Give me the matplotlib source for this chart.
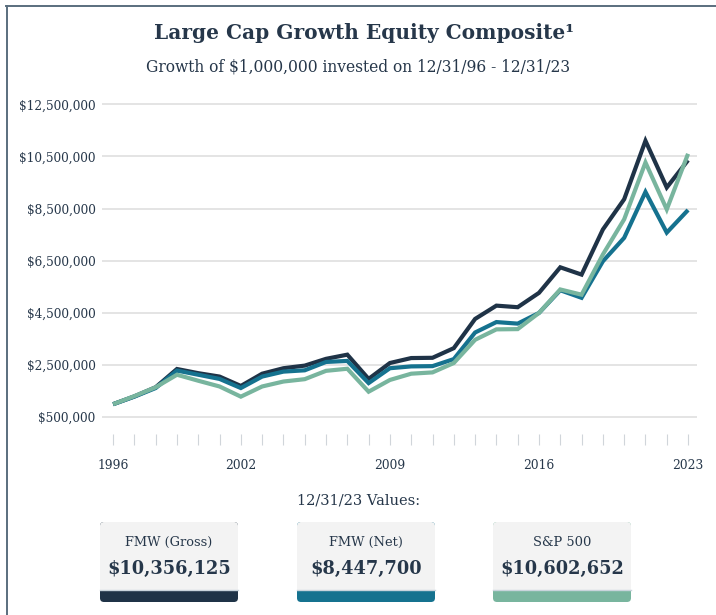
import matplotlib
matplotlib.use("Agg")
import matplotlib.pyplot as plt
from matplotlib.patches import FancyBboxPatch, Rectangle
from matplotlib.lines import Line2D
from matplotlib.ticker import FuncFormatter

plt.rcParams['font.family'] = ['DejaVu Serif']

years = list(range(1996, 2024))
gross = [1000000, 1300000, 1650000, 2350000, 2190000, 2060000, 1700000, 2170000, 2380000, 2480000,
         2740000, 2900000, 1970000, 2580000, 2770000, 2780000, 3150000, 4270000, 4780000, 4720000,
         5270000, 6250000, 5970000, 7700000, 8860000, 11100000, 9310000, 10356125]
net = [1000000, 1290000, 1620000, 2290000, 2130000, 1970000, 1620000, 2060000, 2250000, 2300000,
       2620000, 2660000, 1810000, 2380000, 2450000, 2460000, 2730000, 3750000, 4150000, 4090000,
       4500000, 5370000, 5080000, 6480000, 7380000, 9140000, 7580000, 8447700]
sp500 = [1000000, 1310000, 1650000, 2130000, 1900000, 1680000, 1290000, 1680000, 1870000, 1960000,
         2280000, 2360000, 1480000, 1930000, 2170000, 2220000, 2580000, 3470000, 3870000, 3880000,
         4500000, 5400000, 5200000, 6740000, 8090000, 10270000, 8470000, 10602652]

series_names = ["FMW (Gross)", "FMW (Net)", "S&P 500"]
final_values = ["$10,356,125", "$8,447,700", "$10,602,652"]
colors = ["#1f3347", "#15728f", "#78b59e"]

y_ticks = [500000, 2500000, 4500000, 6500000, 8500000, 10500000, 12500000]
x_labels = {1996: "1996", 2002: "2002", 2009: "2009", 2016: "2016", 2023: "2023"}

text_color = "#26374a"

W, H = 716, 615
fig = plt.figure(figsize=(W / 100, H / 100), dpi=100)

# background layer in pixel coordinates
bg = fig.add_axes([0, 0, 1, 1], zorder=0)
bg.set_xlim(0, W)
bg.set_ylim(H, 0)
bg.axis("off")

# frame lines top and left
bg.add_line(Line2D([6, W], [6, 6], color="#5a6e7e", lw=1.4))
bg.add_line(Line2D([7, 7], [6, H], color="#5a6e7e", lw=1.4))

bg.text(364, 33, "Large Cap Growth Equity Composite\u00b9", ha="center", va="center",
        fontsize=14.5, fontweight="bold", color=text_color)
bg.text(358, 67, "Growth of $1,000,000 invested on 12/31/96 - 12/31/23", ha="center",
        va="center", fontsize=11.2, color=text_color)
bg.text(359, 500, "12/31/23 Values:", ha="center", va="center", fontsize=10.5, color=text_color)

# value boxes
box_left = [100, 297, 493]
box_w = 138
for x0, name, val, c in zip(box_left, series_names, final_values, colors):
    bg.add_patch(FancyBboxPatch((x0, 522), box_w, 80, boxstyle="round,pad=0,rounding_size=4",
                                fc=c, ec="none"))
    bg.add_patch(FancyBboxPatch((x0, 522), box_w, 76, boxstyle="round,pad=0,rounding_size=4",
                                fc="#f3f3f3", ec="none"))
    bg.add_patch(Rectangle((x0, 590), box_w, 8, fc=c, ec="none"))
    bg.add_line(Line2D([x0, x0 + box_w], [590, 590], color="#c9d4dc", lw=1))
    bg.text(x0 + box_w / 2, 542, name, ha="center", va="center", fontsize=9.4, color=text_color)
    bg.text(x0 + box_w / 2, 569, val, ha="center", va="center", fontsize=12.8,
            fontweight="bold", color=text_color)

# main chart
ax = fig.add_axes([102 / W, 1 - 434 / H, 595 / W, (434 - 100) / H], zorder=1)
ax.set_facecolor("none")

for vals, c in zip([gross, net, sp500], colors):
    ax.plot(years, vals, color=c, lw=3, solid_joinstyle="miter", solid_capstyle="butt")

ax.set_xlim(1995.48, 2023.42)
ax.set_ylim(500000 - 16.7 / 26 * 1000000, 12500000 + 4.3 / 26 * 1000000)

ax.set_yticks(y_ticks)
ax.yaxis.set_major_formatter(FuncFormatter(lambda v, p: "${:,.0f}".format(v)))
ax.grid(axis="y", color="#dcdcdc", lw=1.1)
ax.set_axisbelow(True)

ax.set_xticks(years)
ax.set_xticklabels([x_labels.get(y, "") for y in years])

ax.tick_params(axis="y", length=0, pad=4.5, labelsize=8.7, labelcolor=text_color)
ax.tick_params(axis="x", length=8, width=0.8, color="#d0d5da", pad=10,
               labelsize=8.8, labelcolor=text_color)

for s in ax.spines.values():
    s.set_visible(False)

fig.savefig("out.png", dpi=100)
